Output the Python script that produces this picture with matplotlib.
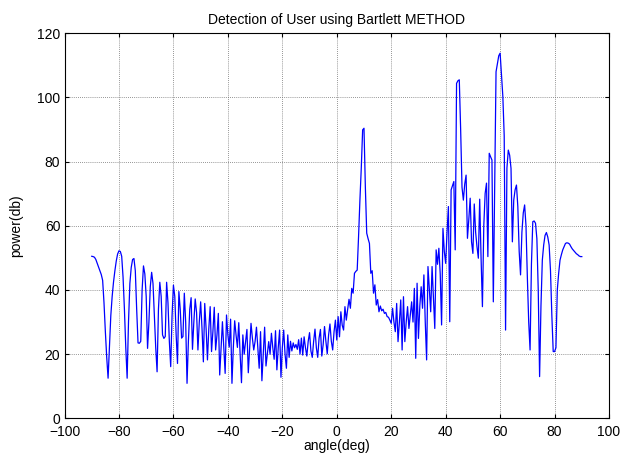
import numpy as np
import matplotlib
matplotlib.use('Agg')
import matplotlib.pyplot as plt

plt.rcParams['font.family'] = ['Liberation Sans', 'DejaVu Sans']

# angulos muestreados cada 0.5 grados
angulos = np.linspace(-90, 90, 361)

# potencia, por tramos de 10 grados
p_m90 = [50.5, 50.4, 50.2, 49.5, 48.3, 47, 45.8, 44.8, 43, 36, 27, 19, 12.5, 22, 32, 38, 42.5, 46, 49, 51.2]
p_m80 = [52.2, 52, 50.5, 44, 34, 22, 12.5, 30, 42, 47, 49.5, 49.8, 46, 34, 23.5, 23.4, 24, 40, 47.5, 45]
p_m70 = [38, 21.8, 30, 41, 45.5, 42, 32, 22, 14.5, 34, 42.4, 38, 26, 24.9, 25.5, 42.4, 36, 24, 16.1, 32]
p_m60 = [41.5, 38, 26, 17.1, 39.5, 34, 25, 25.5, 39, 30, 10.9, 24, 34, 37.6, 21.5, 30, 37.2, 33, 21.3, 30]
p_m50 = [36.3, 28, 17.6, 35.8, 28, 18.2, 28, 34.8, 20.8, 27, 34.6, 21.3, 26, 32.7, 13.5, 22, 30.1, 22, 14, 32.2]
p_m40 = [26, 22.2, 30.9, 10.9, 22, 30.4, 26, 22.1, 29.8, 20, 11.1, 26, 20, 24, 27.7, 14.2, 22, 29.6, 25, 21.3]
p_m30 = [24, 28.4, 22, 15.6, 27, 11.7, 20, 28.4, 16.3, 20, 23.9, 20, 26.5, 22, 18.4, 27.3, 15.1, 22, 27.5, 12.8]
p_m20 = [22, 27.5, 20, 15.6, 26, 19, 24, 21, 23.5, 22, 23, 21.5, 24.5, 20, 25, 19.7, 25.4, 22, 19.4, 24]
p_m10 = [26.7, 21, 19, 24, 27.8, 22, 19, 25, 27.7, 19.4, 23, 28.6, 24, 20.1, 26, 29.4, 24, 21.3, 27, 30.6]
p_0 = [24.4, 31.7, 25.4, 33.2, 29, 27.5, 34.8, 30.6, 34, 37.1, 34.3, 40.5, 39, 45.2, 45.8, 46.2, 56.6, 68, 78, 89.9]
p_10 = [90.4, 72, 57.7, 56, 54.5, 45.2, 46, 39, 41.6, 35.3, 37, 33.2, 35, 33.5, 34, 32.7, 33, 31.7, 31.5, 30.6]
p_20 = [29.6, 34.3, 30, 27, 35.8, 23.9, 30, 36.9, 21.3, 37.9, 23.9, 30, 34.8, 28, 32, 36.3, 30, 40.5, 18.7, 42.1]
p_30 = [24.9, 35, 41, 34.3, 44.7, 30, 18.2, 47.3, 40, 33.2, 47.3, 38, 28, 52.5, 48, 53, 45, 29.1, 59.2, 52]
p_40 = [48.3, 58, 66, 30.1, 71.2, 72.5, 73.8, 52.5, 104.4, 105.2, 105.5, 90, 72, 68, 73, 75.8, 56.1, 62, 68.6, 55]
p_50 = [51.4, 66.8, 58, 53.5, 49.9, 68.3, 50, 34.8, 60, 70.1, 73.3, 50.4, 82.6, 81.5, 80.5, 36.3, 72, 108, 110.5, 113]
p_60 = [113.8, 107, 100.3, 88, 27.5, 78, 83.6, 82, 77.9, 55, 68, 71.2, 72.7, 66, 52, 44.7, 58, 64, 66.5, 60]
p_70 = [44, 30, 21.3, 48, 61.3, 61.5, 60.8, 56, 40, 13, 35, 49.3, 54, 57, 57.9, 56.5, 54, 46, 32, 20.8]
p_80 = [20.8, 22, 40, 45.2, 49.3, 51, 52.5, 53.5, 54.5, 54.7, 54.6, 54.3, 53.5, 52.8, 52.3, 51.8, 51.3, 51, 50.6, 50.4, 50.4]

potencia = (p_m90 + p_m80 + p_m70 + p_m60 + p_m50 + p_m40 + p_m30 + p_m20 + p_m10
            + p_0 + p_10 + p_20 + p_30 + p_40 + p_50 + p_60 + p_70 + p_80)

xticks = np.arange(-100, 101, 20)
yticks = np.arange(0, 121, 20)

fig = plt.figure(figsize=(6.24, 4.61), dpi=100)
ax = fig.add_axes([0.1034, 0.0926, 0.8726, 0.8352])

ax.plot(angulos, potencia, color='#0000ff', linewidth=0.9)

ax.set_xlim(-100, 100)
ax.set_ylim(0, 120)
ax.set_xticks(xticks)
ax.set_yticks(yticks)

# estilo tipo matlab
ax.grid(True, color='0.45', linestyle=(0, (1, 1.5)), linewidth=0.6)
ax.tick_params(direction='in', top=True, right=True, labelsize=10, length=3)
ax.tick_params(axis='x', pad=5)
ax.tick_params(axis='y', pad=3)
for s in ax.spines.values():
    s.set_linewidth(0.8)

ax.set_xlabel("angle(deg)", fontsize=10, labelpad=0)
ax.set_ylabel("power(db)", fontsize=10, labelpad=10)
ax.set_title("Detection of User using Bartlett METHOD", fontsize=10, pad=7)

fig.savefig('out.png', dpi=100)
